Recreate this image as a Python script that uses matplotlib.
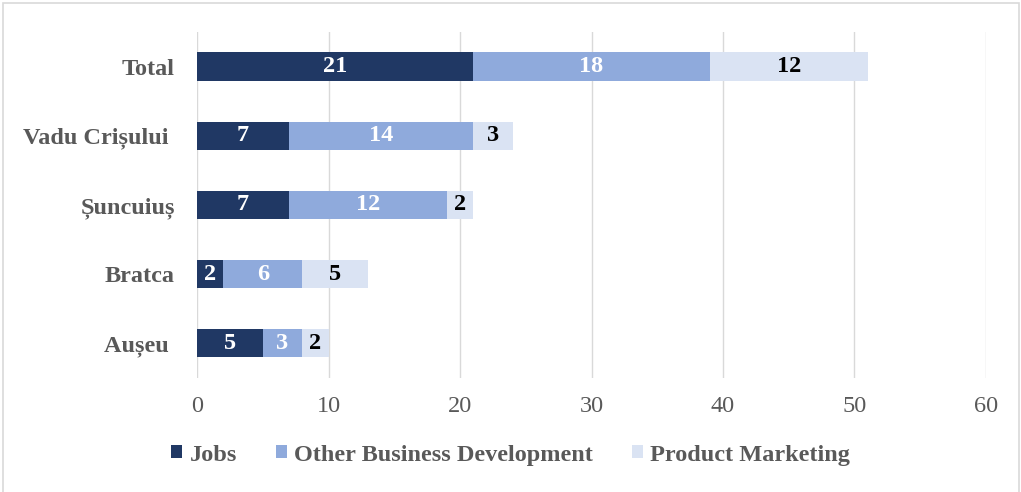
import numpy as np
import matplotlib.pyplot as plt
from matplotlib.patches import Rectangle

categories = ['Total', 'Vadu Crișului ', 'Șuncuiuș', 'Bratca', 'Aușeu ']
jobs = [21, 7, 7, 2, 5]
other_dev = [18, 14, 12, 6, 3]
product_mkt = [12, 3, 2, 5, 2]
series_names = ['Jobs', 'Other Business Development', 'Product Marketing']

COLORS = ['#203864', '#8FAADC', '#DAE3F3']
LABEL_COLORS = ['white', 'white', 'black']
TEXT_GRAY = '#595959'

plt.rcParams['font.family'] = ['Liberation Serif', 'DejaVu Serif']

fig = plt.figure(figsize=(10.21, 4.92), dpi=100)
ax = fig.add_axes([0.193, 0.232, 0.7727, 0.703])

y = np.arange(len(categories))
left = np.zeros(len(categories))
for vals, name, col, lcol in zip([jobs, other_dev, product_mkt], series_names, COLORS, LABEL_COLORS):
    vals = np.array(vals)
    bars = ax.barh(y, vals, left=left, height=0.41, color=col, label=name, zorder=3)
    for b, v in zip(bars, vals):
        ax.text(b.get_x() + b.get_width() / 2, b.get_y() + b.get_height() / 2, str(v),
                ha='center', va='center', color=lcol, fontsize=17.5, fontweight='bold', zorder=4)
    left += vals

ax.set_xlim(0, 60)
ax.set_ylim(len(categories) - 0.5, -0.5)
ax.set_xticks(range(0, 61, 10))
ax.set_yticks(y)
ax.set_yticklabels(categories, fontsize=17.5, fontweight='bold', color=TEXT_GRAY)
ax.tick_params(axis='x', labelsize=17.5, colors=TEXT_GRAY, length=0, pad=13)
ax.tick_params(axis='y', length=0, pad=16)
ax.grid(axis='x', color='#D9D9D9', linewidth=1, zorder=0)
for s in ax.spines.values():
    s.set_visible(False)

leg = fig.legend(loc='center', bbox_to_anchor=(0.5, 0.075), ncol=3, frameon=False,
                 handlelength=0.45, handleheight=0.45, handletextpad=0.3, columnspacing=1.6,
                 prop={'size': 17.5, 'weight': 'bold'})
for t in leg.get_texts():
    t.set_color(TEXT_GRAY)

fig.patches.append(Rectangle((0.003, -0.01), 0.995, 1.003, transform=fig.transFigure,
                             fill=False, edgecolor='#D9D9D9', linewidth=1.2))

fig.savefig('out.png', dpi=100)
